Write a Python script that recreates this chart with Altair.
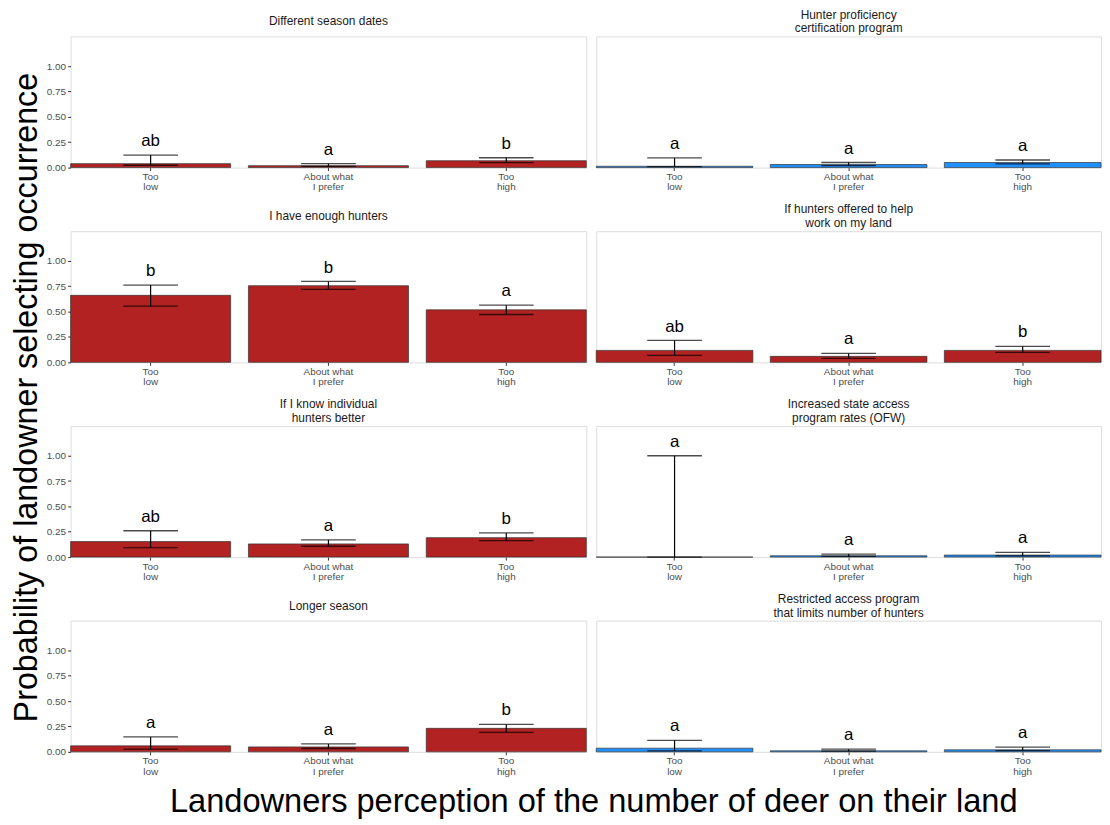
import altair as alt
import pandas as pd

FONT = "Liberation Sans"

panel_titles = [
    ["Different season dates"],
    ["Hunter proficiency", "certification program"],
    ["I have enough hunters"],
    ["If hunters offered to help", "work on my land"],
    ["If I know individual", "hunters better"],
    ["Increased state access", "program rates (OFW)"],
    ["Longer season"],
    ["Restricted access program", "that limits number of hunters"],
]
categories = ["Too low", "About what I prefer", "Too high"]

prob = [
    [0.039, 0.019, 0.068],
    [0.013, 0.030, 0.050],
    [0.661, 0.756, 0.518],
    [0.118, 0.059, 0.118],
    [0.153, 0.130, 0.192],
    [0.000, 0.013, 0.020],
    [0.059, 0.049, 0.232],
    [0.036, 0.010, 0.020],
]
lower = [
    [0.023, 0.012, 0.049],
    [0.010, 0.020, 0.036],
    [0.554, 0.720, 0.472],
    [0.069, 0.039, 0.098],
    [0.094, 0.107, 0.163],
    [0.000, 0.007, 0.013],
    [0.026, 0.033, 0.193],
    [0.010, 0.007, 0.013],
]
upper = [
    [0.123, 0.039, 0.097],
    [0.095, 0.050, 0.075],
    [0.762, 0.798, 0.564],
    [0.216, 0.088, 0.157],
    [0.260, 0.169, 0.238],
    [1.000, 0.030, 0.046],
    [0.147, 0.078, 0.271],
    [0.114, 0.026, 0.046],
]
letters = [
    ["ab", "a", "b"],
    ["a", "a", "a"],
    ["b", "b", "a"],
    ["ab", "a", "b"],
    ["ab", "a", "b"],
    ["a", "a", "a"],
    ["a", "a", "b"],
    ["a", "a", "a"],
]
bar_colors = ["#B22222", "#1E90FF", "#B22222", "#B22222",
              "#B22222", "#1E90FF", "#B22222", "#1E90FF"]

y_title = "Probability of landowner selecting occurrence"
x_title = "Landowners perception of the number of deer on their land"

LABEL_EXPR = ("datum.value == 'About what I prefer' ? ['About what', 'I prefer'] "
              ": split(datum.value, ' ')")


def panel(i):
    df = pd.DataFrame({
        "cat": categories,
        "prob": prob[i],
        "lo": lower[i],
        "hi": upper[i],
        "lab": letters[i],
    })
    left = i % 2 == 0
    w = 519 if left else 508

    xk = dict(title=None, labelAngle=0, labelExpr=LABEL_EXPR, labelFontSize=10,
              labelColor="#4D4D4D", labelLineHeight=10.5, tickSize=3,
              tickColor="#333333", labelPadding=1, domain=False, grid=False)
    if i == 6:
        xk.update(title=x_title, titleX=526, titleY=60, titleFontSize=32.8,
                  titleFontWeight="normal", titleColor="#000000",
                  titleAlign="center", titleBaseline="alphabetic", titleAnchor="middle")
    xaxis = alt.Axis(**xk)
    xscale = alt.Scale(paddingInner=0.1, paddingOuter=0)

    if left:
        yk = dict(values=[0, 0.25, 0.5, 0.75, 1.0], format=".2f", labelFontSize=10,
                  labelColor="#4D4D4D", tickSize=3, tickColor="#333333",
                  labelPadding=2, domain=False, title=None, grid=False)
        if i == 0:
            yk.update(title=y_title, titleX=-44, titleY=363, titleFontSize=32.5,
                      titleFontWeight="normal", titleColor="#000000",
                      titleAlign="center", titleBaseline="middle", titleAngle=270)
        yaxis = alt.Axis(**yk)
    else:
        yaxis = None
    yscale = alt.Scale(domain=[0, 1.294], nice=False, zero=True)

    def X():
        return alt.X("cat:N", sort=categories, scale=xscale, axis=xaxis)

    def Y(field):
        return alt.Y(f"{field}:Q", scale=yscale, axis=yaxis)

    base = alt.Chart(df)
    bars = base.mark_bar(color=bar_colors[i], stroke="#333333", strokeWidth=0.7).encode(
        x=X(), y=Y("prob"))
    rule = base.mark_rule(color="black", strokeWidth=1.2).encode(
        x=X(), y=Y("lo"), y2="hi:Q")
    cap_hi = base.mark_tick(color="black", size=55, thickness=1.3).encode(
        x=X(), y=Y("hi"))
    cap_lo = base.mark_tick(color="black", size=55, thickness=1.3).encode(
        x=X(), y=Y("lo"))
    text = base.mark_text(fontSize=17, font=FONT, color="#000000",
                          baseline="alphabetic", dy=-9).encode(
        x=X(), y=Y("hi"), text="lab:N")

    two_line = len(panel_titles[i]) > 1
    return alt.layer(bars, rule, cap_hi, cap_lo, text).properties(
        width=w, height=132,
        title=alt.TitleParams(text=panel_titles[i], fontSize=12, font=FONT,
                              fontWeight="normal", color="#1A1A1A", anchor="middle",
                              lineHeight=14, offset=1 if two_line else 8),
    )


chart = alt.concat(*[panel(i) for i in range(8)], columns=2,
                   spacing={"row": 64, "column": 10}, bounds="flush").properties(
    padding={"left": 2, "top": -3, "right": 0, "bottom": 0}
).configure_view(
    stroke="#7F7F7F", strokeWidth=1
).configure_axis(
    labelFont=FONT, titleFont=FONT, grid=False
).configure(background="white")

chart.save("out.html", embed_options={"renderer": "svg", "actions": False})
